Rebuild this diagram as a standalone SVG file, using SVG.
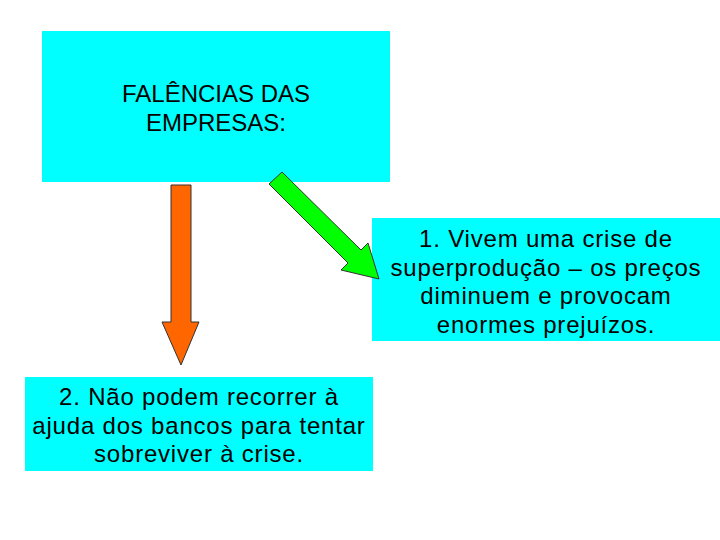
<svg xmlns="http://www.w3.org/2000/svg" width="720" height="540" viewBox="0 0 720 540">
<style>
.box{fill:#00FFFF;stroke:none}
.t{font-family:"Liberation Sans",Arial,sans-serif;font-size:24px;fill:#000;text-anchor:middle}
.sp{letter-spacing:0.8px}
.arr{stroke:#333;stroke-width:1;stroke-linejoin:miter}
</style>
<rect width="720" height="540" fill="#fff"/>
<g id="node-top">
<rect class="box" x="42" y="31" width="348" height="151"/>
<text class="t" x="216" y="102">FALÊNCIAS DAS</text>
<text class="t" x="216" y="131">EMPRESAS:</text>
</g>
<g id="node-right">
<rect class="box" x="372" y="218" width="348" height="123"/>
<text class="t sp" x="546" y="247">1. Vivem uma crise de</text>
<text class="t sp" x="546" y="276">superprodução – os preços</text>
<text class="t sp" x="546" y="304">diminuem e provocam</text>
<text class="t sp" x="546" y="333">enormes prejuízos.</text>
</g>
<g id="node-bottom">
<rect class="box" x="25" y="377" width="348" height="94"/>
<text class="t sp" x="199" y="405">2. Não podem recorrer à</text>
<text class="t sp" x="199" y="434">ajuda dos bancos para tentar</text>
<text class="t sp" x="199" y="462">sobreviver à crise.</text>
</g>
<g id="connectors">
<polygon class="arr" fill="#FF6600" points="171,185 191,185 191,322 199,322 181,365 162,322 171,322"/>
<polygon class="arr" fill="#00FF00" points="269,184 282,172 361,250 368,243 379,279 341,270 348,263"/>
</g>
</svg>
